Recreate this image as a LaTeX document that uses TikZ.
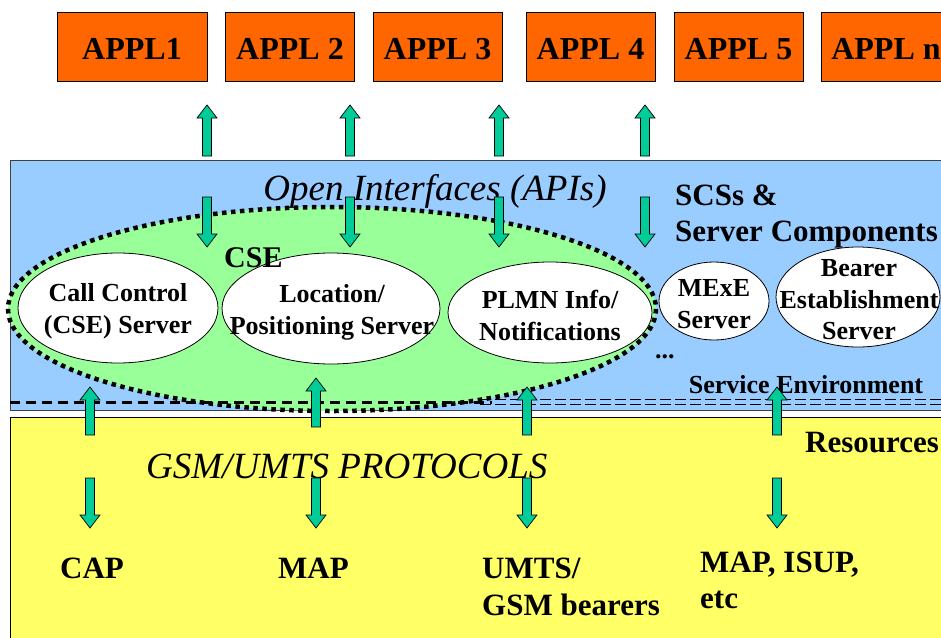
\documentclass[tikz,border=0pt]{standalone}
\usepackage{fontspec}
\setmainfont{Liberation Serif}
\usetikzlibrary{calc,shapes.geometric}
\definecolor{applorange}{HTML}{FF6600}
\definecolor{envblue}{HTML}{99CCFF}
\definecolor{csegreen}{HTML}{99FF99}
\definecolor{resyellow}{HTML}{FFFF66}
\definecolor{arrteal}{HTML}{00CC99}
\newcommand\fsz[2]{\fontsize{#1}{#2}\selectfont}
\newcommand\blockarr[3]{%
  \draw[blockarrow] ($(#1)+(-4.5,0)$) -- ($(#2)+(-4.5,#3*13)$) -- ($(#2)+(-10,#3*13)$) -- (#2)
    -- ($(#2)+(10,#3*13)$) -- ($(#2)+(4.5,#3*13)$) -- ($(#1)+(4.5,0)$) -- cycle;}
\begin{document}
\begin{tikzpicture}[x=1pt,y=-1pt,
  blockarrow/.style={fill=arrteal, draw=black, line width=0.7},
  applbox/.style={draw=black, line width=0.8, fill=applorange, font=\bfseries\fsz{32}{38},
    inner sep=0, minimum height=69, text height=25, text depth=0},
  srv/.style={ellipse, draw=black, line width=0.8, fill=white, inner sep=0},
  srvtext/.style={inner sep=0, align=center, font=\bfseries\fsz{26}{31.5}},
  lbl/.style={inner sep=0, font=\bfseries\fsz{31}{37}},
  lblsmall/.style={inner sep=0, font=\bfseries\fsz{26}{31}},
  lblit/.style={inner sep=0, font=\itshape\fsz{37}{44}}]
\useasboundingbox (0,0) rectangle (941,637);
\fill[white] (0,0) rectangle (941,637);

% layers
\node[draw=black!75, line width=0.8, fill=envblue, minimum width=950, minimum height=250,
  anchor=north west, inner sep=0] (env) at (10,160) {};
\node[draw=black, line width=0.8, fill=resyellow, minimum width=950, minimum height=240,
  anchor=north west, inner sep=0] (res) at (10,417) {};
\node[ellipse, fill=csegreen, minimum width=648, minimum height=204, inner sep=0] (cse) at (332,309) {};

% separator between service environment and resources
\draw[line width=3, dash pattern=on 10pt off 6pt] (10,402) -- (492,402);
\draw[line width=1.5, dash pattern=on 11pt off 4pt] (480,399.5) -- (941,399.5);
\draw[line width=1.5, dash pattern=on 11pt off 4pt] (480,404.5) -- (941,404.5);

% CSE dotted border
\draw[line width=4.5, dash pattern=on 4.5pt off 4.5pt] (cse.center) ellipse [x radius=324, y radius=102];

% applications
\node[applbox, minimum width=150] (a1) at (132,46.5) {APPL1};
\node[applbox, minimum width=129] (a2) at (290,46.5) {APPL 2};
\node[applbox, minimum width=129] (a3) at (437.5,46.5) {APPL 3};
\node[applbox, minimum width=129] (a4) at (590.5,46.5) {APPL 4};
\node[applbox, minimum width=129] (a5) at (738.5,46.5) {APPL 5};
\node[applbox, minimum width=129] (a6) at (886,46.5) {APPL n};

% servers
\node[srv, minimum width=200, minimum height=110] (cc) at (118,308) {};
\node[srvtext] (cct) at ($(cc.center)+(0,3)$) {Call Control\\(CSE) Server};
\node[srv, minimum width=218, minimum height=111] (loc) at (331,308.5) {};
\node[srvtext] (loct) at ($(loc.center)+(1,4)$) {Location/\\Positioning Server};
\node[srv, minimum width=204, minimum height=101] (plmn) at (550,312.5) {};
\node[srvtext] (plmnt) at ($(plmn.center)+(0,3)$) {PLMN Info/\\Notifications};
\node[srv, minimum width=110, minimum height=78] (mexe) at (714,301) {};
\node[srvtext] (mexet) at ($(mexe.center)+(0,3)$) {MExE\\Server};
\node[srv, minimum width=164, minimum height=100] (bear) at (858,297) {};
\node[srvtext] (beart) at ($(bear.center)+(1,3)$) {Bearer\\Establishment\\Server};

% labels
\node[lblit, anchor=base] (api) at (435,200) {Open Interfaces (APIs)};
\node[lbl, anchor=base west] (scs1) at (675,205) {SCSs \&};
\node[lbl, anchor=base west] (scs2) at (675,241) {Server Components};
\node[inner sep=0, font=\bfseries\fsz{30}{36}, anchor=base west] (csel) at (224,267) {CSE};
\node[lblsmall, anchor=base west] (dots) at (655,358) {...};
\node[lblsmall, anchor=base] (senv) at (806,393) {Service Environment};
\node[lbl, anchor=base west] (reso) at (805,452) {Resources};
\node[lblit, anchor=base west] (gsm) at (146,478) {GSM/UMTS PROTOCOLS};
\node[lbl, anchor=base west] (cap) at (60,578) {CAP};
\node[lbl, anchor=base west] (map) at (278,578) {MAP};
\node[lbl, anchor=base west] (umts1) at (482,578) {UMTS/};
\node[lbl, anchor=base west] (umts2) at (482,615) {GSM bearers};
\node[lbl, anchor=base west] (isup1) at (700,572) {MAP, ISUP,};
\node[lbl, anchor=base west] (isup2) at (700,608) {etc};

% arrows: top (to applications)
\foreach \i/\x in {1/207,2/350,3/499,4/645}{
  \coordinate (ut\i) at (\x,156); \coordinate (uh\i) at (\x,105);
  \blockarr{ut\i}{uh\i}{1}
  \coordinate (dt\i) at (\x,197); \coordinate (dh\i) at (\x,247);
  \blockarr{dt\i}{dh\i}{-1}
}
% arrows: resources to service environment
\foreach \i/\x/\yt/\yh in {1/90/435/387,2/316/427/378,3/527/435/387,4/777/435/387}{
  \coordinate (rt\i) at (\x,\yt); \coordinate (rh\i) at (\x,\yh);
  \blockarr{rt\i}{rh\i}{1}
  \coordinate (pt\i) at (\x,478); \coordinate (ph\i) at (\x,528);
  \blockarr{pt\i}{ph\i}{-1}
}
\end{tikzpicture}
\end{document}
